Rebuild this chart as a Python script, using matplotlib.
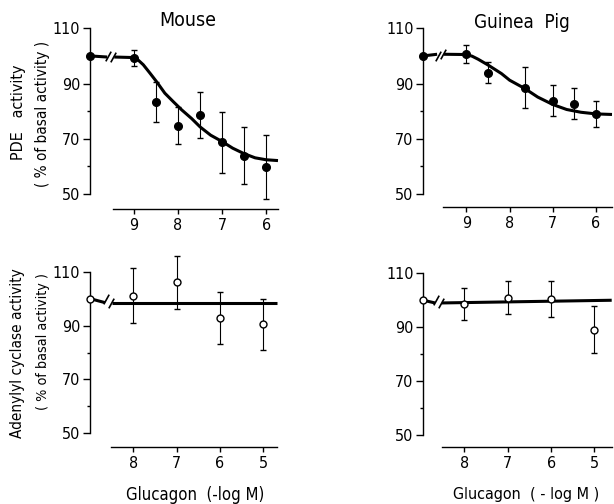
import matplotlib
matplotlib.use("Agg")
import matplotlib.pyplot as plt
from matplotlib.ticker import FixedLocator

plt.rcParams["font.family"] = ["Liberation Sans Narrow", "DejaVu Sans Condensed", "DejaVu Sans"]
plt.rcParams["font.stretch"] = "condensed"

BASAL = 100.0

# PDE activity (% of basal) vs glucagon (-log M)
MOUSE_PDE_X = [9.0, 8.5, 8.0, 7.5, 7.0, 6.5, 6.0]
MOUSE_PDE_Y = [99.2, 83.3, 74.8, 78.7, 68.7, 63.9, 59.8]
MOUSE_PDE_ERR = [3.0, 7.3, 6.8, 8.3, 11.0, 10.3, 11.5]
MOUSE_PDE_FIT_X = [9.45, 9.0, 8.94, 8.79, 8.64, 8.48, 8.30, 8.10, 7.92,
                   7.69, 7.5, 7.26, 7.0, 6.76, 6.5, 6.25, 6.0, 5.73]
MOUSE_PDE_FIT_Y = [99.6, 99.4, 99.0, 96.8, 93.8, 90.5, 86.5, 83.3, 80.5,
                   77.3, 74.3, 71.3, 69.0, 66.6, 64.6, 63.1, 62.4, 62.1]

GP_PDE_X = [9.0, 8.5, 7.65, 7.0, 6.5, 6.0]
GP_PDE_Y = [100.6, 93.9, 88.5, 83.7, 82.7, 79.0]
GP_PDE_ERR = [3.2, 3.8, 7.5, 5.6, 5.6, 4.8]
GP_PDE_FIT_X = [9.52, 9.0, 8.87, 8.73, 8.5, 8.19, 8.0, 7.65, 7.35, 7.0,
                6.68, 6.35, 6.0, 5.63]
GP_PDE_FIT_Y = [100.6, 100.5, 99.9, 98.8, 96.7, 93.6, 91.2, 88.2, 85.1,
                82.4, 80.6, 79.6, 79.0, 78.8]

# Adenylyl cyclase activity (% of basal)
MOUSE_AC_X = [8.0, 7.0, 6.0, 5.0]
MOUSE_AC_Y = [101.1, 106.0, 92.7, 90.5]
MOUSE_AC_ERR = [10.1, 10.0, 9.7, 9.4]
MOUSE_AC_FIT_X = [8.5, 4.68]
MOUSE_AC_FIT_Y = [98.5, 98.5]

GP_AC_X = [8.0, 7.0, 6.0, 5.0]
GP_AC_Y = [98.5, 101.0, 100.5, 89.0]
GP_AC_ERR = [6.0, 6.2, 6.6, 8.7]
GP_AC_FIT_X = [8.52, 4.6]
GP_AC_FIT_Y = [99.0, 100.0]

PDE_TICKS = [9, 8, 7, 6]
AC_TICKS = [8, 7, 6, 5]

W, H = 614, 504
SLASH = [(-0.55, -1), (0.55, 1)]


def px_axes(fig, left, right, top, bottom):
    return fig.add_axes([left / W, 1 - bottom / H, (right - left) / W, (bottom - top) / H])


def draw_panel(ax, xlim, ticks, break_x, axis_start, offset,
               x, y, err, fit_x, fit_y, filled):
    ax.set_xlim(xlim)
    ax.set_ylim(50, 110)

    for side in ("top", "right"):
        ax.spines[side].set_visible(False)
    ax.spines["left"].set_bounds(50, 110)
    ax.spines["bottom"].set_position(("outward", offset))
    ax.spines["bottom"].set_bounds(axis_start, xlim[1])
    for side in ("left", "bottom"):
        ax.spines[side].set_linewidth(1.0)

    ax.set_xticks(ticks)
    ax.set_xticklabels([str(t) for t in ticks])
    ax.set_yticks([50, 70, 90, 110])
    ax.yaxis.set_minor_locator(FixedLocator([60, 80, 100]))
    ax.tick_params(axis="x", direction="out", length=3.5, width=1, pad=3, labelsize=11.5)
    ax.tick_params(axis="y", which="major", direction="out", length=5, width=1, pad=2,
                   labelsize=11.5)
    ax.tick_params(axis="y", which="minor", direction="out", length=2.5, width=1)

    # fitted line, broken just after the basal value
    gap = 0.08
    ax.plot([xlim[0], break_x + gap], [BASAL, fit_y[0]], color="black", lw=2.2,
            solid_capstyle="butt", clip_on=False, zorder=2)
    ax.plot(fit_x, fit_y, color="black", lw=2.2, solid_capstyle="butt",
            clip_on=False, zorder=2)
    ax.plot([break_x + gap * 0.7, break_x - gap * 0.7], [BASAL, fit_y[0]], ls="none",
            marker=SLASH, ms=7, mew=1.2, color="black", clip_on=False, zorder=3)

    face = "black" if filled else "white"
    ax.errorbar(x, y, yerr=err, fmt="o", ms=5.5 if filled else 5, mfc=face,
                mec="black", mew=1.0, ecolor="black", elinewidth=0.8, capsize=1.9,
                capthick=0.8, clip_on=False, zorder=4)
    ax.plot([xlim[0]], [BASAL], "o", ms=5.5 if filled else 5, mfc=face, mec="black",
            mew=1.0, clip_on=False, zorder=5)


def execute():
    fig = plt.figure(figsize=(W / 100, H / 100), dpi=100)

    ax_tl = px_axes(fig, 90, 278, 28.3, 194)
    draw_panel(ax_tl, (10.0, 5.73), PDE_TICKS, 9.53, 9.48, 10.6,
               MOUSE_PDE_X, MOUSE_PDE_Y, MOUSE_PDE_ERR,
               MOUSE_PDE_FIT_X, MOUSE_PDE_FIT_Y, True)

    ax_tr = px_axes(fig, 423.3, 612, 28.3, 194)
    draw_panel(ax_tr, (10.0, 5.63), PDE_TICKS, 9.6, 9.55, 9.4,
               GP_PDE_X, GP_PDE_Y, GP_PDE_ERR,
               GP_PDE_FIT_X, GP_PDE_FIT_Y, True)

    ax_bl = px_axes(fig, 90, 277, 271.7, 433.3)
    draw_panel(ax_bl, (9.0, 4.68), AC_TICKS, 8.57, 8.52, 9.6,
               MOUSE_AC_X, MOUSE_AC_Y, MOUSE_AC_ERR,
               MOUSE_AC_FIT_X, MOUSE_AC_FIT_Y, False)

    ax_br = px_axes(fig, 423.3, 611.7, 273.3, 435)
    draw_panel(ax_br, (8.95, 4.6), AC_TICKS, 8.6, 8.52, 8.9,
               GP_AC_X, GP_AC_Y, GP_AC_ERR,
               GP_AC_FIT_X, GP_AC_FIT_Y, False)

    fig.text(188 / W, 1 - 21 / H, "Mouse", ha="center", va="center", fontsize=14)
    fig.text(522 / W, 1 - 22 / H, "Guinea  Pig", ha="center", va="center", fontsize=13.5)

    fig.text(19 / W, 1 - 112 / H, "PDE   activity", rotation=90, ha="center",
             va="center", fontsize=11.5)
    fig.text(43 / W, 1 - 114 / H, "( % of basal activity )", rotation=90, ha="center",
             va="center", fontsize=11)
    fig.text(18 / W, 1 - 353 / H, "Adenylyl cyclase activity", rotation=90, ha="center",
             va="center", fontsize=11)
    fig.text(43 / W, 1 - 342 / H, "( % of basal activity )", rotation=90, ha="center",
             va="center", fontsize=10.3)

    fig.text(195 / W, 1 - 495 / H, "Glucagon  (-log M)", ha="center", va="center",
             fontsize=12)
    fig.text(526 / W, 1 - 495 / H, "Glucagon  ( - log M )", ha="center", va="center",
             fontsize=11.5)

    fig.savefig("out.png", dpi=100)


if __name__ == "__main__":
    execute()
